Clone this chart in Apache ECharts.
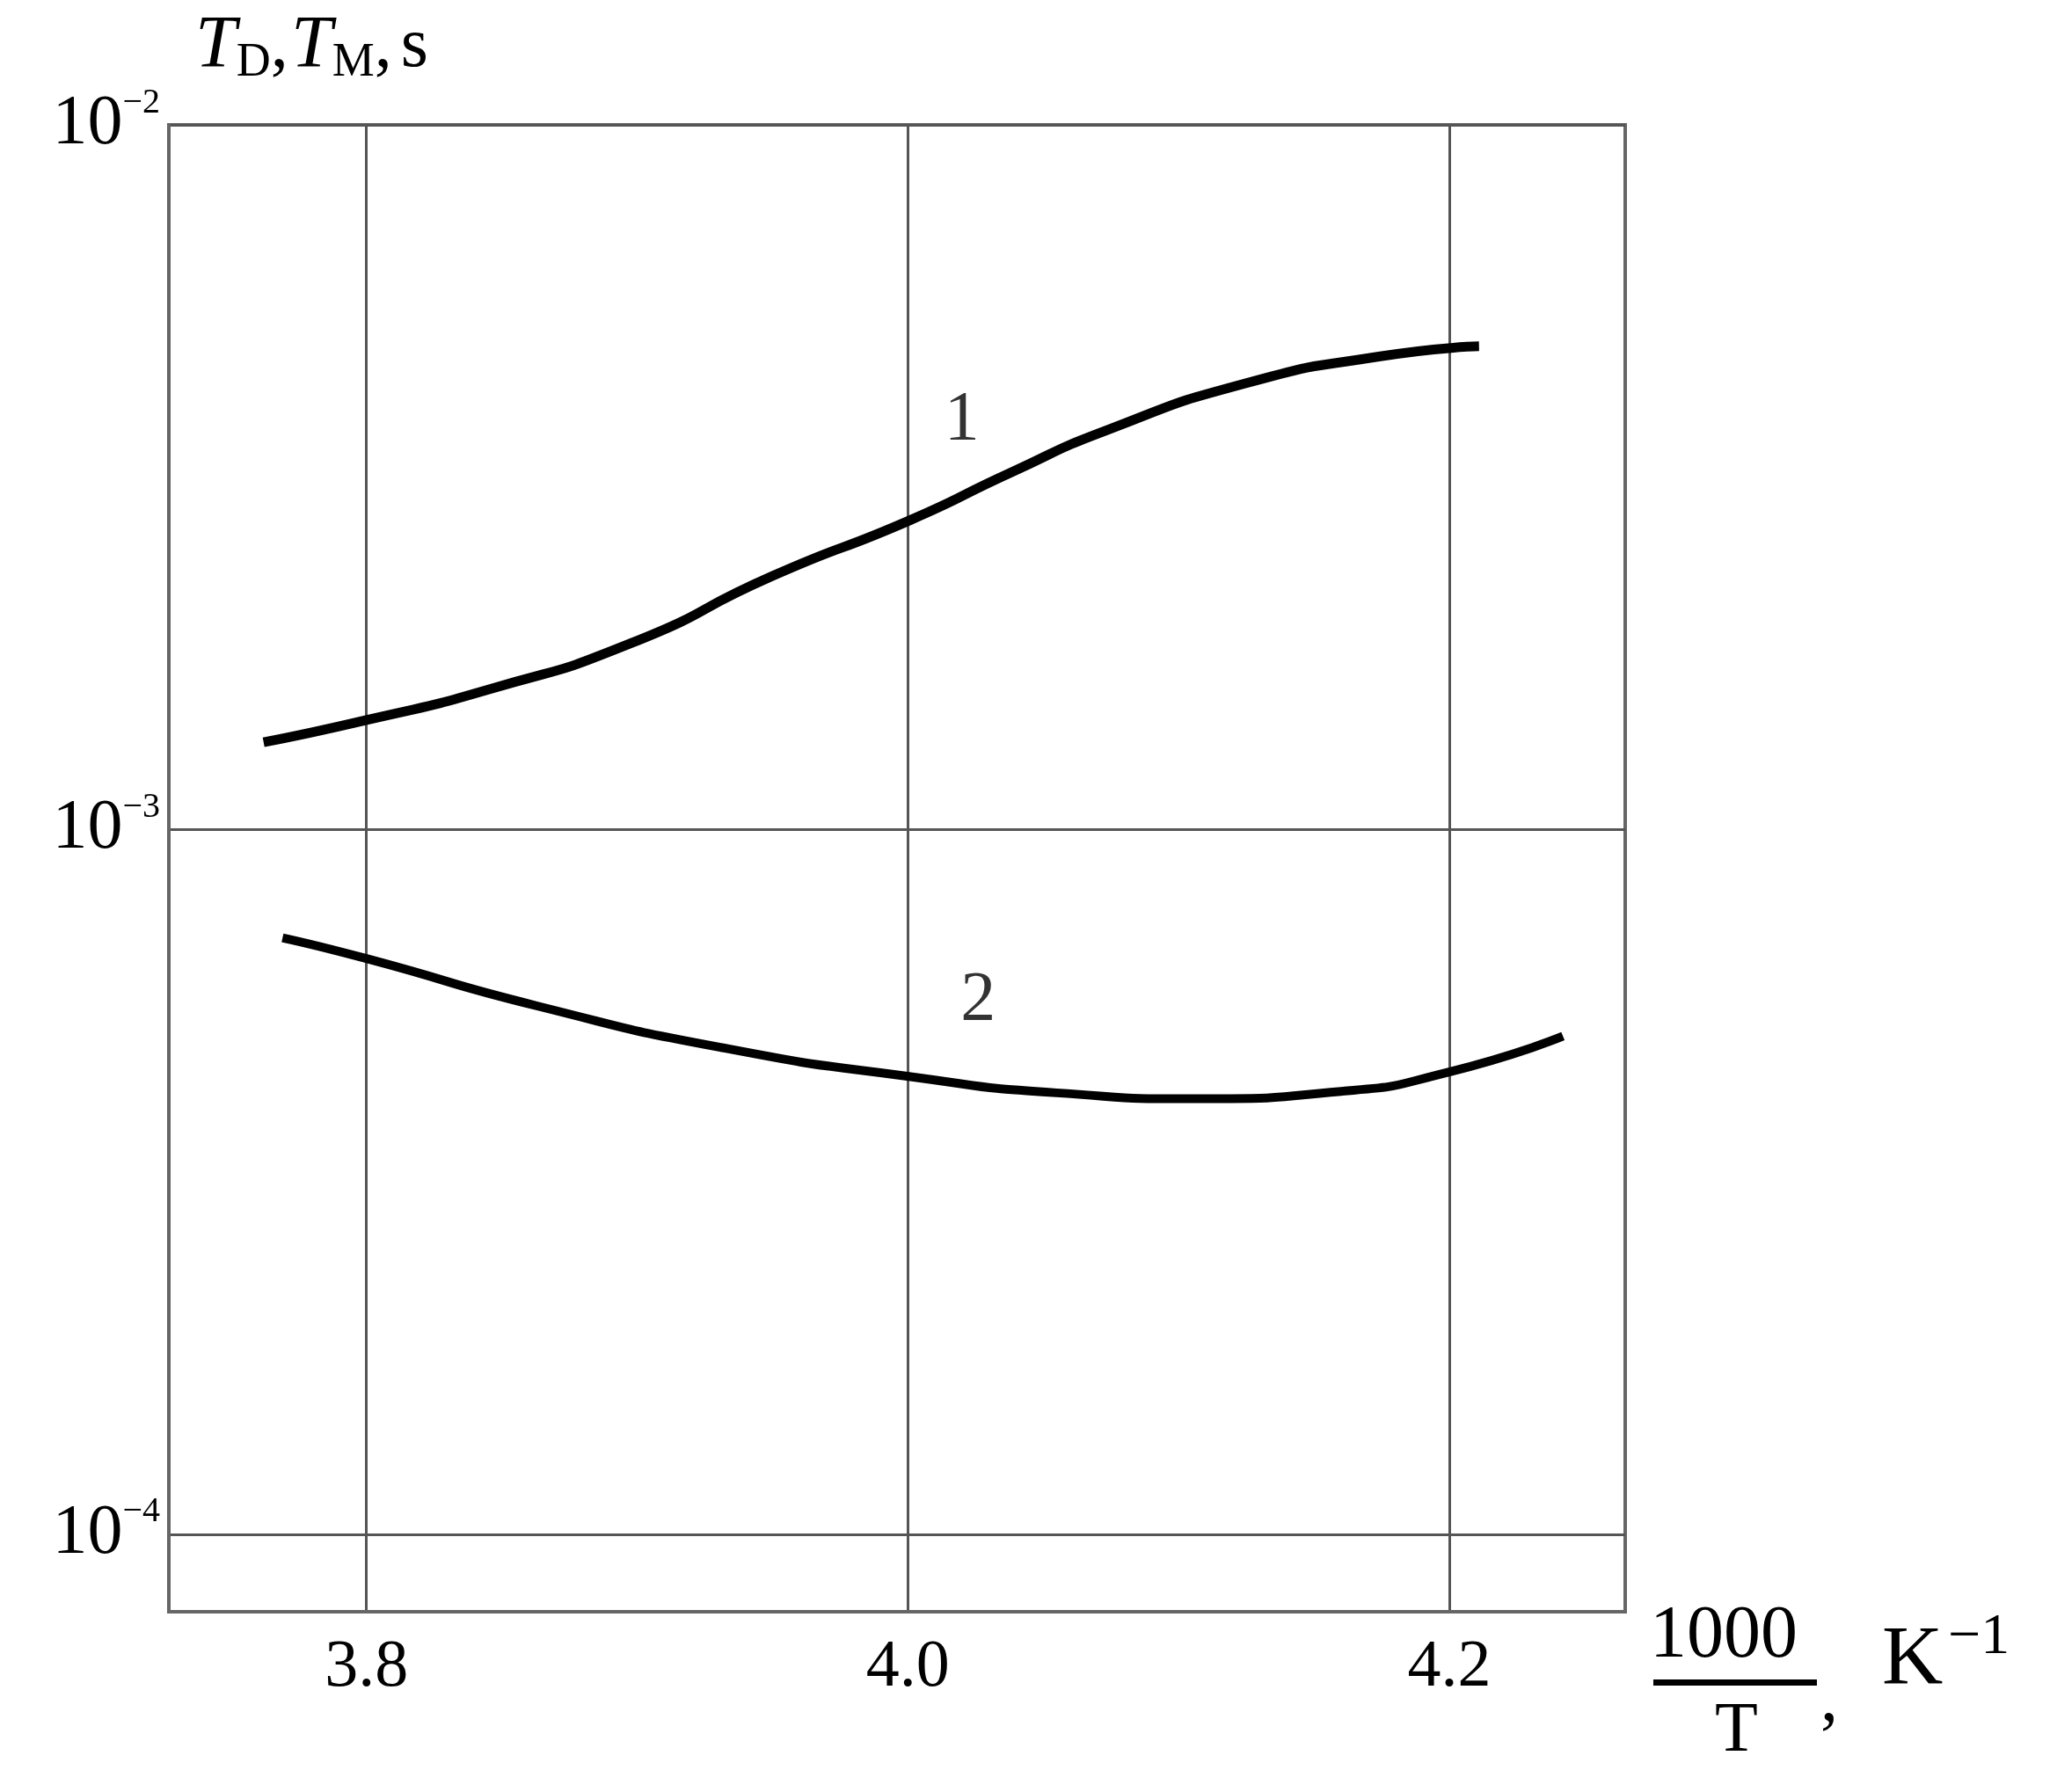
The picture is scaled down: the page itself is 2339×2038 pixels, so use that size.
<!DOCTYPE html>
<html>
<head>
<meta charset="utf-8">
<script src="https://cdn.jsdelivr.net/npm/echarts@6/dist/echarts.min.js"></script>
<style>html,body{margin:0;background:#fff}#chart{width:2339px;height:2038px}</style>
</head>
<body>
<div id="chart"></div>
<script>
// curve 1 (upper) and curve 2 (lower), x = 1000/T, y = time in s
const curve1 = [
    [3.762, 1.33e-3], [3.800, 1.43e-3], [3.845, 1.58e-3], [3.898, 1.84e-3],
    [3.950, 2.29e-3], [4.001, 2.75e-3], [4.038, 3.21e-3], [4.073, 3.68e-3],
    [4.125, 4.30e-3], [4.174, 4.69e-3], [4.211, 4.85e-3]
];
const curve2 = [
    [3.769, 7.02e-4], [3.800, 6.56e-4], [3.863, 5.62e-4], [3.933, 4.89e-4],
    [4.001, 4.46e-4], [4.055, 4.23e-4], [4.108, 4.15e-4], [4.160, 4.25e-4],
    [4.200, 4.53e-4], [4.242, 5.09e-4]
];
const xTicks = [3.8, 4.0, 4.2];
const yTicks = [1e-4, 1e-3, 1e-2];
const curveLabels = [['1', 4.020, 3.8e-3], ['2', 4.026, 5.7e-4]];

const serif = '"Liberation Serif", "DejaVu Serif", serif';
const chart = echarts.init(document.getElementById('chart'));

const option = {
    backgroundColor: '#fff',
    animation: false,
    grid: {
        left: 192, right: 491, top: 142, bottom: 205,
        show: true, borderColor: '#666', borderWidth: 4
    },
    xAxis: {
        type: 'value',
        min: 3.727,
        max: 4.265,
        axisLine: { show: true, lineStyle: { color: '#666', width: 4 } },
        axisTick: { show: false, customValues: xTicks },
        axisLabel: {
            customValues: xTicks,
            margin: 26,
            fontFamily: serif, fontSize: 76, color: '#000',
            formatter: v => v.toFixed(1)
        },
        splitLine: { show: true, lineStyle: { color: '#555', width: 3 } }
    },
    yAxis: {
        type: 'log',
        min: Math.pow(10, -4.11),
        max: 1e-2,
        axisLine: { show: true, lineStyle: { color: '#666', width: 4 } },
        axisTick: { show: false, customValues: yTicks },
        axisLabel: {
            customValues: yTicks,
            margin: 10,
            formatter: v => '{b|10}{s|−' + Math.round(-Math.log10(v)) + '}',
            rich: {
                b: { fontFamily: serif, fontSize: 80, color: '#000' },
                s: { fontFamily: serif, fontSize: 40, color: '#000', verticalAlign: 'top', padding: [0, 0, 50, 0] }
            }
        },
        splitLine: { show: true, lineStyle: { color: '#555', width: 3 } }
    },
    series: [
        {
            type: 'line', data: curve1, smooth: 0.6, showSymbol: false,
            lineStyle: { color: '#000', width: 11 }
        },
        {
            type: 'line', data: curve2, smooth: 0.6, showSymbol: false,
            lineStyle: { color: '#000', width: 10 }
        },
        {
            type: 'scatter', symbolSize: 0, silent: true,
            data: curveLabels.map(d => ({ value: [d[1], d[2]], name: d[0] })),
            label: {
                show: true, position: 'inside', formatter: p => p.name,
                fontFamily: serif, fontSize: 80, color: '#000'
            }
        }
    ],
    graphic: [
        {
            type: 'text', left: 222, top: 12,
            style: {
                text: '{t|T}{sub|D}{c|,} {t|T}{sub|M}{c|,}   {c|s}',
                rich: {
                    t: { fontFamily: serif, fontStyle: 'italic', fontSize: 84, fill: '#000' },
                    sub: { fontFamily: serif, fontSize: 54, fill: '#000', verticalAlign: 'bottom', padding: [36, 0, 0, 0] },
                    c: { fontFamily: serif, fontSize: 80, fill: '#000' }
                }
            }
        },
        { type: 'text', left: 1876, top: 1820, style: { text: '1000', fontFamily: serif, fontSize: 84, fill: '#000' } },
        { type: 'rect', shape: { x: 1880, y: 1910, width: 186, height: 7 }, style: { fill: '#000' } },
        { type: 'text', left: 1950, top: 1930, style: { text: 'T', fontFamily: serif, fontSize: 80, fill: '#000' } },
        { type: 'text', left: 2070, top: 1895, style: { text: ',', fontFamily: serif, fontSize: 80, fill: '#000' } },
        { type: 'text', left: 2140, top: 1842, style: { text: 'K', fontFamily: serif, fontSize: 96, fill: '#000' } },
        { type: 'text', left: 2215, top: 1830, style: { text: '−1', fontFamily: serif, fontSize: 66, fill: '#000' } }
    ]
};
chart.setOption(option);
</script>
</body>
</html>
